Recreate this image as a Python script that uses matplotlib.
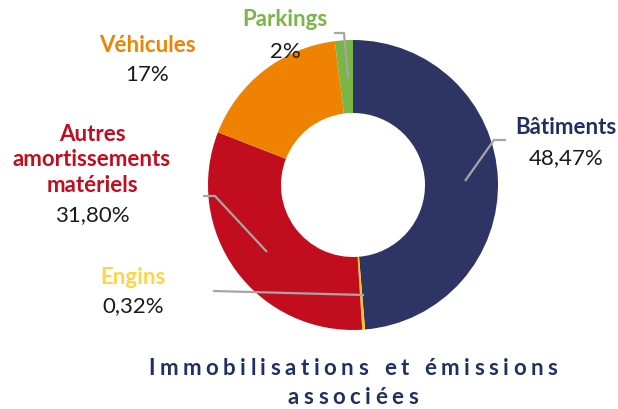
import matplotlib
matplotlib.use("Agg")
import matplotlib.pyplot as plt

# data
labels = ["Bâtiments", "Engins", "Autres\namortissements\nmatériels", "Véhicules", "Parkings"]
values = [48.47, 0.32, 31.80, 17.0, 2.0]
pct_text = ["48,47%", "0,32%", "31,80%", "17%", "2%"]
colors = ["#2E3464", "#F9C31F", "#C20D1F", "#EF8200", "#79B645"]
label_colors = ["#1F2F66", "#FFD447", "#C20D1F", "#EF8200", "#79B645"]
title = "Immobilisations et émissions\nassociées"

W, H = 618, 410
plt.rcParams['font.family'] = ['Lato', 'DejaVu Sans']

fig = plt.figure(figsize=(W / 100, H / 100), dpi=100)
ax = fig.add_axes([0, 0, 1, 1])


def Y(y):
    # pixel row -> data y
    return H - y


cx, cy, R = 353, 186, 145
ax.pie(values, colors=colors, startangle=90, counterclock=False,
       center=(cx, Y(cy)), radius=R, frame=True,
       wedgeprops=dict(width=73, edgecolor='none'))
ax.set_xlim(0, W)
ax.set_ylim(0, H)
ax.set_aspect('equal')
ax.axis('off')

# label positions: (x, name y, pct y)
lab_pos = [(566, 128, 158), (133, 278, 306), (92, 160, 215), (147, 45, 75), (285, 20, 52)]
for i, (x, yn, yp) in enumerate(lab_pos):
    ax.text(x, Y(yn), labels[i], color=label_colors[i], fontsize=16, fontweight='bold',
            ha='center', va='center', linespacing=1.25)
    ax.text(x, Y(yp), pct_text[i], color='#1a1a1a', fontsize=16,
            ha='center', va='center')

# leader lines
leaders = [
    [(506, 141), (494, 141), (465, 182)],
    [(213, 292), (364, 296)],
    [(203, 197), (215, 197), (267, 253)],
    [(334, 34), (344, 34), (348, 78)],
]
for pts in leaders:
    ax.plot([p[0] for p in pts], [Y(p[1]) for p in pts], color='#A6A6A6', lw=1.6,
            solid_capstyle='butt', zorder=5)

# title with letter spacing
renderer = fig.canvas.get_renderer()
tracking = 4.5
for li, line in enumerate(title.split("\n")):
    yrow = 369 + li * 29
    widths = []
    for ch in line:
        t = ax.text(0, 0, ch if ch != " " else "i", fontsize=16, fontweight='bold')
        bb = t.get_window_extent(renderer)
        widths.append(bb.width if ch != " " else bb.width * 1.2)
        t.remove()
    total = sum(widths) + tracking * (len(line) - 1)
    x = cx - total / 2
    for ch, w in zip(line, widths):
        ax.text(x, Y(yrow), ch, fontsize=16, fontweight='bold', color='#1F2F66',
                ha='left', va='center')
        x += w + tracking

fig.savefig("out.png", dpi=100)
